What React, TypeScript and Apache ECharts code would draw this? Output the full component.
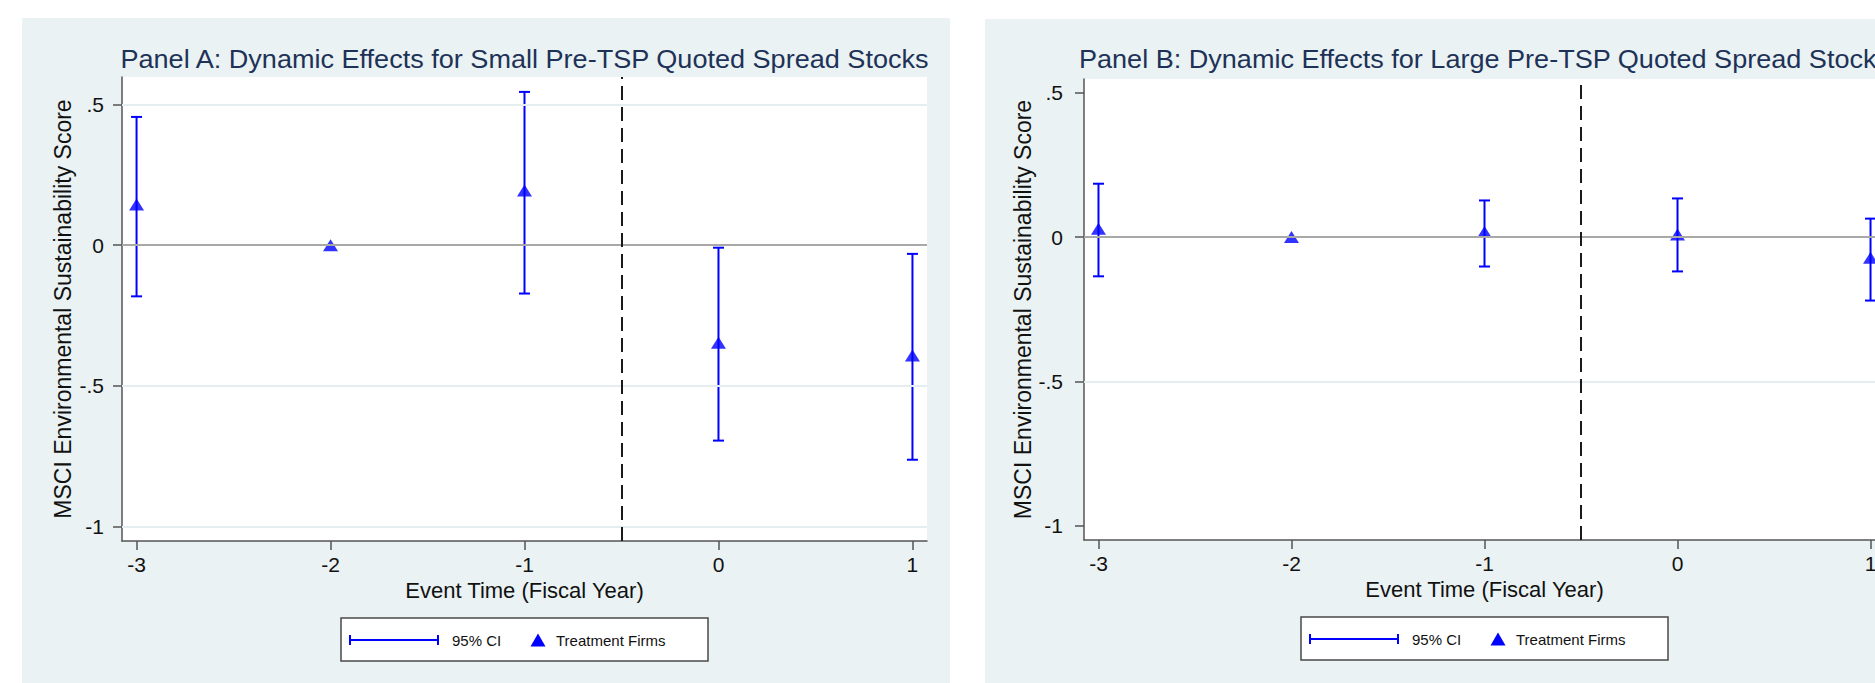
import React, { useEffect, useRef } from "react";
import * as echarts from "echarts";

// ---------- data ----------
const eventYears = [-3, -2, -1, 0, 1];
const xTicks = [-3, -2, -1, 0, 1];
const yTicks = [-1, -0.5, 0, 0.5];
const eventLine = -0.5;

const panelATitle = "Panel A: Dynamic Effects for Small Pre-TSP Quoted Spread Stocks";
const panelBTitle = "Panel B: Dynamic Effects for Large Pre-TSP Quoted Spread Stocks";
const yAxisTitle = "MSCI Environmental Sustainability Score";
const xAxisTitle = "Event Time (Fiscal Year)";
const legendCI = "95% CI";
const legendPoint = "Treatment Firms";

const panelAPoint = [0.145, 0, 0.194, -0.347, -0.392];
const panelALower: (number | null)[] = [-0.182, null, -0.172, -0.695, -0.763];
const panelAUpper: (number | null)[] = [0.456, null, 0.545, -0.009, -0.031];
const panelAGridLines = [0.5, -0.5, -1];

const panelBPoint = [0.029, 0, 0.018, 0.009, -0.072];
const panelBLower: (number | null)[] = [-0.136, null, -0.102, -0.119, -0.22];
const panelBUpper: (number | null)[] = [0.185, null, 0.127, 0.134, 0.064];
const panelBGridLines = [-0.5];

// ---------- styles ----------
const BLUE = "#0000ff";
const FONT = "'Liberation Sans', Arial, Helvetica, sans-serif";
const NARROW = "'Liberation Sans Narrow', 'Arial Narrow', 'Liberation Sans', sans-serif";
const AXIS_COLOR = "#555555";
const TEXT_COLOR = "#111111";
const PANEL_BG = "#eaf2f3";
const TITLE_COLOR = "#1e3258";

const yFmt = (v: number) => {
  if (v === 0) return "0";
  return String(v).replace("0.", ".");
};

const ciRender = (_params: any, api: any) => {
  const x = api.value(0);
  const lo = api.coord([x, api.value(1)]);
  const hi = api.coord([x, api.value(2)]);
  const cap = 5.5;
  const style = { stroke: BLUE, lineWidth: 2 };
  return {
    type: "group",
    children: [
      { type: "line", shape: { x1: hi[0], y1: hi[1], x2: lo[0], y2: lo[1] }, style },
      { type: "line", shape: { x1: hi[0] - cap, y1: hi[1], x2: hi[0] + cap, y2: hi[1] }, style },
      { type: "line", shape: { x1: lo[0] - cap, y1: lo[1], x2: lo[0] + cap, y2: lo[1] }, style },
    ],
  };
};

function ciData(lower: (number | null)[], upper: (number | null)[]) {
  const out: number[][] = [];
  eventYears.forEach((t, i) => {
    const lo = lower[i];
    const hi = upper[i];
    if (lo != null && hi != null) out.push([t, lo, hi]);
  });
  return out;
}

function makeAxes(idx: number, yMin: number, yMax: number, yLabelMargin: number) {
  const xAxis = {
    gridIndex: idx,
    type: "value",
    min: -3.075,
    max: 1.075,
    axisLine: { show: true, onZero: false, lineStyle: { color: AXIS_COLOR, width: 1.5 } },
    axisTick: { show: true, customValues: xTicks, length: 9, lineStyle: { color: AXIS_COLOR, width: 1.5 } },
    axisLabel: { customValues: xTicks, fontSize: 21, color: TEXT_COLOR, margin: 13, fontFamily: FONT },
    splitLine: { show: false },
    name: xAxisTitle,
    nameLocation: "middle",
    nameGap: 38,
    nameTextStyle: { fontSize: 22, color: TEXT_COLOR, fontFamily: FONT },
  };
  const yAxis = {
    gridIndex: idx,
    type: "value",
    min: yMin,
    max: yMax,
    axisLine: { show: true, onZero: false, lineStyle: { color: AXIS_COLOR, width: 1.5 } },
    axisTick: { show: true, customValues: yTicks, length: 9, lineStyle: { color: AXIS_COLOR, width: 1.5 } },
    axisLabel: {
      customValues: yTicks,
      rotate: 0,
      fontSize: 21,
      color: TEXT_COLOR,
      margin: yLabelMargin,
      fontFamily: FONT,
      formatter: yFmt,
    },
    splitLine: { show: false },
    name: yAxisTitle,
    nameLocation: "middle",
    nameGap: 48,
    nameTextStyle: { fontSize: 23, color: TEXT_COLOR, fontFamily: FONT },
  };
  return { xAxis, yAxis };
}

function makeSeries(
  idx: number,
  points: number[],
  lower: (number | null)[],
  upper: (number | null)[],
  gridLines: number[]
) {
  const markData: any[] = [];
  gridLines.forEach((v) =>
    markData.push({ yAxis: v, lineStyle: { color: "#e4edf0", width: 2, type: "solid" } })
  );
  markData.push({ yAxis: 0, lineStyle: { color: "#a8a8a8", width: 2, type: "solid" } });
  markData.push({ xAxis: eventLine, lineStyle: { color: "#1a1a1a", width: 2, type: [14, 7] } });
  return [
    {
      type: "line",
      xAxisIndex: idx,
      yAxisIndex: idx,
      data: [],
      z: 1,
      silent: true,
      markLine: {
        silent: true,
        symbol: ["none", "none"],
        label: { show: false },
        animation: false,
        data: markData,
      },
    },
    {
      type: "custom",
      name: legendCI,
      xAxisIndex: idx,
      yAxisIndex: idx,
      z: 3,
      silent: true,
      renderItem: ciRender,
      encode: { x: 0, y: [1, 2] },
      data: ciData(lower, upper),
    },
    {
      type: "scatter",
      name: legendPoint,
      xAxisIndex: idx,
      yAxisIndex: idx,
      z: 4,
      silent: true,
      symbol: "triangle",
      symbolSize: [15, 12],
      itemStyle: { color: BLUE },
      data: eventYears.map((t, i) => [t, points[i]]),
    },
  ];
}

function legendGraphic(cx: number, top: number) {
  const cy = top + 22;
  const st = { stroke: BLUE, lineWidth: 2 };
  return [
    {
      type: "rect",
      z: 10,
      shape: { x: cx - 183.5, y: top, width: 367, height: 43 },
      style: { fill: "#ffffff", stroke: "#4a4a4a", lineWidth: 1.5 },
    },
    { type: "line", z: 11, shape: { x1: cx - 174.5, y1: cy, x2: cx - 86.5, y2: cy }, style: st },
    { type: "line", z: 11, shape: { x1: cx - 174.5, y1: cy - 5, x2: cx - 174.5, y2: cy + 5 }, style: st },
    { type: "line", z: 11, shape: { x1: cx - 86.5, y1: cy - 5, x2: cx - 86.5, y2: cy + 5 }, style: st },
    {
      type: "text",
      z: 11,
      style: {
        text: legendCI,
        x: cx - 72.5,
        y: cy,
        verticalAlign: "middle",
        fontSize: 15,
        fontFamily: NARROW,
        fill: TEXT_COLOR,
      },
    },
    {
      type: "polygon",
      z: 11,
      shape: { points: [[cx + 6, cy + 6.5], [cx + 21, cy + 6.5], [cx + 13.5, cy - 6.5]] },
      style: { fill: BLUE },
    },
    {
      type: "text",
      z: 11,
      style: {
        text: legendPoint,
        x: cx + 31.5,
        y: cy,
        verticalAlign: "middle",
        fontSize: 15,
        fontFamily: NARROW,
        fill: TEXT_COLOR,
      },
    },
  ];
}

function titleGraphic(cx: number, text: string) {
  return {
    type: "text",
    z: 10,
    x: cx,
    y: 59,
    scaleX: 1.07,
    style: {
      text,
      x: 0,
      y: 0,
      align: "center",
      verticalAlign: "middle",
      fontSize: 25.3,
      fontFamily: FONT,
      fill: TITLE_COLOR,
    },
  };
}

export default function App() {
  const ref = useRef<HTMLDivElement>(null);
  useEffect(() => {
    if (!ref.current) return;
    const chart = echarts.init(ref.current, undefined, { renderer: "svg" });
    const a = makeAxes(0, -1.052, 0.598, 18);
    const b = makeAxes(1, -1.05, 0.548, 21);
    const gridA = { left: 122, top: 77, width: 805, height: 464 };
    const gridB = { left: 1084, top: 79, width: 801, height: 461 };
    const cxA = gridA.left + gridA.width / 2;
    const cxB = gridB.left + gridB.width / 2;
    const option: any = {
      animation: false,
      backgroundColor: "#ffffff",
      grid: [
        { ...gridA, show: true, backgroundColor: "#ffffff", borderWidth: 0, z: 0 },
        { ...gridB, show: true, backgroundColor: "#ffffff", borderWidth: 0, z: 0 },
      ],
      xAxis: [a.xAxis, b.xAxis],
      yAxis: [a.yAxis, b.yAxis],
      graphic: [
        {
          type: "rect",
          z: -10,
          shape: { x: 22, y: 18, width: 928, height: 665 },
          style: { fill: PANEL_BG },
        },
        {
          type: "rect",
          z: -10,
          shape: { x: 985, y: 19, width: 935, height: 664 },
          style: { fill: PANEL_BG },
        },
        titleGraphic(cxA, panelATitle),
        titleGraphic(cxB, panelBTitle),
        ...legendGraphic(cxA, 618),
        ...legendGraphic(cxB, 617),
      ],
      series: [
        ...makeSeries(0, panelAPoint, panelALower, panelAUpper, panelAGridLines),
        ...makeSeries(1, panelBPoint, panelBLower, panelBUpper, panelBGridLines),
      ],
    };
    chart.setOption(option);
    return () => chart.dispose();
  }, []);
  return (
    <div
      style={{
        position: "fixed",
        left: 0,
        top: 0,
        width: 1875,
        height: 683,
        overflow: "hidden",
        background: "#ffffff",
      }}
    >
      <div ref={ref} style={{ width: 1920, height: 683 }} />
    </div>
  );
}
